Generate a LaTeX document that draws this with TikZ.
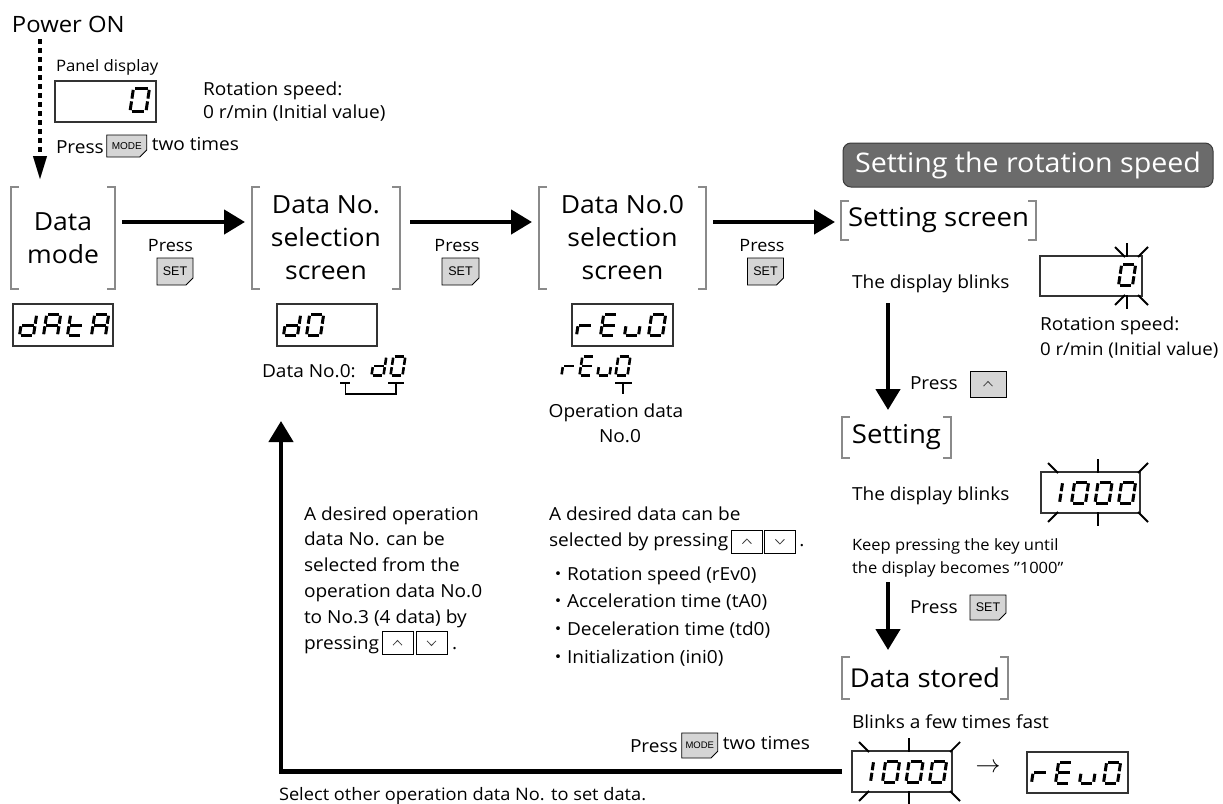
\documentclass[tikz,border=0pt]{standalone}
\usepackage{fontspec}
\setmainfont{Open Sans}[FakeStretch=1.06]
\newfontfamily\cjk{Noto Sans CJK JP}
\newfontfamily\keyfont{Liberation Sans}
\usetikzlibrary{arrows.meta,shapes.misc}
\definecolor{brk}{HTML}{8A8A8A}
\definecolor{keyfill}{HTML}{D5D5D5}
\definecolor{bannerfill}{HTML}{6B6B6B}
\definecolor{bannerline}{HTML}{3A3A3A}
\definecolor{boxline}{HTML}{333333}
% seven segment definitions (unit cell, y up)
\def\SEGa{(0.1,1)--(0.9,1)}
\def\SEGb{(1,0.94)--(1,0.56)}
\def\SEGc{(1,0.44)--(1,0.06)}
\def\SEGd{(0.1,0)--(0.9,0)}
\def\SEGe{(0,0.44)--(0,0.06)}
\def\SEGf{(0,0.94)--(0,0.56)}
\def\SEGg{(0.1,0.5)--(0.9,0.5)}
\expandafter\def\csname chd\endcsname{b,c,d,e,g}
\expandafter\def\csname chA\endcsname{a,b,c,e,f,g}
\expandafter\def\csname cht\endcsname{d,e,f,g}
\expandafter\def\csname ch0\endcsname{a,b,c,d,e,f}
\expandafter\def\csname chr\endcsname{e,g}
\expandafter\def\csname chE\endcsname{a,d,e,f,g}
\expandafter\def\csname chu\endcsname{c,d,e}
\expandafter\def\csname ch1\endcsname{b,c}
\newcommand\segdraw[1]{\edef\segtmp{\noexpand\draw[segline] \csname SEG#1\endcsname;}\segtmp}
% x, ybottom, H, W, linewidth, char
\newcommand\ssch[6]{%
  \edef\sslist{\csname ch#6\endcsname}%
  \pgfmathsetmacro\ssC{-0.15*#3}\pgfmathsetmacro\ssD{-#3}%
  \begin{scope}[shift={(#1,#2)}, cm={#4,0,\ssC,\ssD,(0,0)}, segline/.style={line width=#5pt}]
    \foreach \sseg in \sslist {\segdraw{\sseg}}
  \end{scope}}
% x0, ybottom, H, W, lw, pitch, chars
\newcommand\ssword[7]{%
  \foreach \sschar [count=\nn from 0] in {#7}{%
    \pgfmathsetmacro\ssx{#1+\nn*#6}%
    \ssch{\ssx}{#2}{#3}{#4}{#5}{\sschar}}}
% blink rays: x0, x1, xc, y0, y1
\newcommand\blinkrays[5]{%
  \draw[rayline] (#1+7,#4-9) -- (#1+17,#4+1);
  \draw[rayline] (#3,#4-13) -- (#3,#4+1);
  \draw[rayline] (#2-2,#4+1) -- (#2+8,#4-9);
  \draw[rayline] (#1+7,#5+9) -- (#1+17,#5-1);
  \draw[rayline] (#3,#5-1) -- (#3,#5+13);
  \draw[rayline] (#2-2,#5-1) -- (#2+8,#5+9);}
\newcommand\bracketize[2]{%
  \draw[brkline] ([xshift=#2]#1.north west) -- (#1.north west) -- (#1.south west) -- ([xshift=#2]#1.south west);
  \draw[brkline] ([xshift=-#2]#1.north east) -- (#1.north east) -- (#1.south east) -- ([xshift=-#2]#1.south east);}
\newcommand\upchev[1]{\draw[chev] ([shift={(-4.5pt,-2.2pt)}]#1.center) -- ([shift={(0pt,2.5pt)}]#1.center) -- ([shift={(4.5pt,-2.2pt)}]#1.center);}
\newcommand\downchev[1]{\draw[chev] ([shift={(-4.5pt,2.2pt)}]#1.center) -- ([shift={(0pt,-2.5pt)}]#1.center) -- ([shift={(4.5pt,2.2pt)}]#1.center);}
\begin{document}
\begin{tikzpicture}[x=1pt,y=-1pt,
  brknode/.style={inner sep=0, outer sep=0, align=center, font=\fontsize{25}{33}\selectfont},
  brkline/.style={draw=brk, line width=2.2pt},
  dispbox/.style={draw=boxline, line width=1.2pt, inner sep=0, outer sep=0},
  keybtn/.style={chamfered rectangle, chamfered rectangle corners=south east, chamfered rectangle xsep=3.5pt, chamfered rectangle ysep=3.5pt, draw=black, line width=0.8pt, fill=keyfill, inner sep=0, outer sep=0, font=\keyfont\fontsize{12.5}{12.5}\selectfont},
  arrkey/.style={draw=black, line width=0.8pt, fill=keyfill, inner sep=0, outer sep=0, minimum width=36pt, minimum height=26pt},
  udbox/.style={draw=black, line width=0.8pt, fill=white, inner sep=0, outer sep=0, minimum width=31pt, minimum height=23pt},
  chev/.style={line width=0.8pt, draw=black!75},
  mainarrow/.style={line width=4.5pt, -{Triangle[length=21pt,width=24pt]}},
  dotarrow/.style={line width=4pt, dash pattern=on 5pt off 4pt, -{Triangle[length=24pt,width=13pt]}},
  segline/.style={line width=3pt},
  rayline/.style={line width=1.8pt},
  leader/.style={line width=1.1pt},
  tx/.style={anchor=base west, inner sep=0, outer sep=0, font=\fontsize{18}{22}\selectfont},
  txs/.style={tx, font=\fontsize{15.6}{20}\selectfont},
  txc/.style={anchor=base, inner sep=0, outer sep=0, font=\fontsize{17}{22}\selectfont},
  banner/.style={rounded corners=8pt, fill=bannerfill, draw=bannerline, line width=1pt, text=white, inner sep=0, minimum width=370pt, minimum height=44pt, font=\fontsize{27}{30}\selectfont}
]
\useasboundingbox (0,0) rectangle (1223,803);

% ---- power on
\node[tx, font=\fontsize{22.5}{30}\selectfont] (power) at (12,32) {Power ON};
\node[tx, font=\fontsize{15.8}{20}\selectfont] (panel) at (56,71) {Panel display};
\node[dispbox, minimum width=101pt, minimum height=41pt] (pd) at (105.5,101.5) {};
\ssch{130}{111.5}{23}{16}{3}{0}
\node[tx] (rs1) at (203,95) {Rotation speed:};
\node[tx] (rs2) at (203,118) {0 r/min (Initial value)};
\node[tx] (pr0) at (56,153) {Press};
\node[keybtn, minimum width=40pt, minimum height=22pt, font=\keyfont\fontsize{10}{10}\selectfont, anchor=west] (mk0) at ([shift={(3pt,7pt)}]pr0.base east) {MODE};
\node[tx, anchor=west] (tt0) at ([xshift=5pt]mk0.east) {\vphantom{Pp}two times};

% ---- main row brackets
\node[brknode, minimum width=104pt, minimum height=102pt] (dm) at (63,238) {Data\\mode};
\node[brknode, minimum width=148pt, minimum height=102pt] (dns) at (326,238) {Data No.\\selection\\screen};
\node[brknode, minimum width=167pt, minimum height=102pt] (dn0) at (622.5,238) {Data No.0\\selection\\screen};
\bracketize{dm}{8pt}
\bracketize{dns}{8pt}
\bracketize{dn0}{8pt}

\coordinate (dstart) at (40,39);
\draw[dotarrow, shorten >=7pt] (dstart) -- (dstart |- dm.north);

% ---- right column nodes
\node[banner] (ban) at (1028,165) {Setting the rotation speed};
\node[brknode, font=\fontsize{26}{30}\selectfont, minimum width=195pt, minimum height=39pt] (ss) at (938.5,220.5) {Setting screen};
\node[brknode, font=\fontsize{26}{30}\selectfont, minimum width=109pt, minimum height=41pt] (st) at (896.5,437.5) {Setting};
\node[brknode, font=\fontsize{26}{30}\selectfont, minimum width=166pt, minimum height=42pt] (ds) at (925,678) {Data stored};
\bracketize{ss}{8pt}
\bracketize{st}{8pt}
\bracketize{ds}{8pt}

% ---- main arrows
\coordinate (rowy) at (0,222);
\draw[mainarrow, shorten <=7pt, shorten >=7pt] (dm.east |- rowy) -- (dns.west |- rowy);
\draw[mainarrow, shorten <=10pt, shorten >=7pt] (dns.east |- rowy) -- (dn0.west |- rowy);
\draw[mainarrow, shorten <=7pt, shorten >=6pt] (dn0.east |- rowy) -- (ss.west |- rowy);

\node[txc] (p1) at (170.5,251) {Press};
\node[keybtn, minimum width=36pt, minimum height=27pt] (k1) at (175,271.5) {SET};
\node[txc] (p2) at (457,251) {Press};
\node[keybtn, minimum width=37pt, minimum height=27pt] (k2) at (460.5,271.5) {SET};
\node[txc] (p3) at (762,251) {Press};
\node[keybtn, minimum width=36pt, minimum height=27pt] (k3) at (765.5,271.5) {SET};

% ---- displays in main row
\node[dispbox, minimum width=100pt, minimum height=42pt] (bdata) at (63,325) {};
\ssword{19.5}{335.5}{21}{14}{3}{24}{d,A,t,A}
\node[dispbox, minimum width=100pt, minimum height=42pt] (bd0) at (327,325) {};
\ssword{283.5}{335.5}{21}{14}{3}{23}{d,0}
\node[dispbox, minimum width=101pt, minimum height=42pt] (brev) at (622.5,325) {};
\ssword{576.5}{335.5}{21}{14}{3}{24}{r,E,u,0}

% ---- annotations under displays
\node[tx] (dnA) at (262,377) {Data No.};
\node[tx] (dnB) at (dnA.base east) {0};
\node[tx] (dnC) at (dnB.base east) {:};
\ssword{371.5}{375.5}{19}{12}{2.6}{19}{d,0}
\coordinate (legL) at (dnB.base);
\draw[leader] ([xshift=-5pt]legL |- 0,383) -- ([xshift=5pt]legL |- 0,383);
\draw[leader] (legL |- 0,383) -- (legL |- 0,394) -- (396,394) -- (396,383);
\draw[leader] (388,383) -- (404,383);
\ssword{561.5}{375.5}{19}{12}{2.6}{18}{r,E,u,0}
\draw[leader] (615,383) -- (632,383);
\draw[leader] (623,383) -- (623,394);
\node[txc, font=\fontsize{18}{22}\selectfont] (od1) at (616,417) {Operation data};
\node[txc, font=\fontsize{18}{22}\selectfont] (od2) at (620,442) {No.0};

% ---- setting screen
\node[tx] (bl1) at (852,288) {The display blinks};
\node[dispbox, minimum width=102pt, minimum height=40pt] (bss0) at (1091,276) {};
\ssch{1118.5}{285.5}{21}{14}{3}{0}
\blinkrays{1108}{1140}{1127}{256}{296}
\node[tx] (rs3) at (1040,330) {Rotation speed:};
\node[tx, font=\fontsize{17.6}{22}\selectfont] (rs4) at (1040,355) {0 r/min (Initial value)};
\coordinate (v1s) at (888,303);
\draw[mainarrow, shorten >=7pt] (v1s) -- (v1s |- st.north);
\node[tx] (p4) at (910,389) {Press};
\node[arrkey] (uk) at (988,384) {};
\upchev{uk}

% ---- setting
\node[tx] (bl2) at (852,500) {The display blinks};
\node[dispbox, minimum width=99pt, minimum height=41pt] (bset) at (1090.5,492.5) {};
\ssch{1045.5}{503}{21}{14}{3}{1}
\ssword{1071.5}{503}{21}{14}{3}{23.5}{0,0,0}
\blinkrays{1041}{1140}{1098}{472}{513}
\node[txs] (kp1) at (852,550) {Keep pressing the key until};
\node[txs] (kp2) at (852,573) {the display becomes "1000"};
\coordinate (v2s) at (888,582);
\draw[mainarrow, shorten >=7pt] (v2s) -- (v2s |- ds.north);
\node[tx] (p5) at (910,613) {Press};
\node[keybtn, minimum width=36pt, minimum height=25pt] (k5) at (988,607.5) {SET};

% ---- data stored
\node[tx] (bf) at (852,728) {Blinks a few times fast};
\node[dispbox, minimum width=100pt, minimum height=41pt] (bst) at (902,771.5) {};
\ssch{856.5}{782}{21}{14}{3}{1}
\ssword{882.5}{782}{21}{14}{3}{23.5}{0,0,0}
\blinkrays{852}{952}{909}{751}{792}
\node[inner sep=0, font=\fontsize{24.88}{26}\selectfont] (arw) at (988,768) {$\rightarrow$};
\node[dispbox, minimum width=101pt, minimum height=41pt] (brev2) at (1077.5,772.5) {};
\ssword{1031.5}{783}{21}{14}{3}{24}{r,E,u,0}

% ---- return path
\coordinate (rettip) at (281,421);
\draw[mainarrow, shorten <=10pt] (bst.west) -| (rettip);
\node[tx] (p6) at (630,752) {Press};
\node[keybtn, minimum width=36pt, minimum height=25pt, font=\keyfont\fontsize{9.5}{9.5}\selectfont, anchor=west] (mk1) at ([shift={(4pt,6.5pt)}]p6.base east) {MODE};
\node[tx, anchor=west] (tt1) at ([xshift=5pt]mk1.east) {\vphantom{Pp}two times};
\node[tx, font=\fontsize{17.2}{22}\selectfont] (sel) at (279,800) {Select other operation data No. to set data.};

% ---- left paragraph
\foreach \txt [count=\nn] in {A desired operation, data No. can be, selected from the, operation data No.0, to No.3 (4 data) by}
  {\node[tx] (lp\nn) at (304,{520+(\nn-1)*25.8}) {\txt};}
\node[tx] (lp6) at (304,649) {pressing};
\node[udbox, anchor=west] (lu) at ([shift={(3pt,6pt)}]lp6.base east) {};
\node[udbox, anchor=west] (ld) at ([xshift=3pt]lu.east) {};
\upchev{lu}
\downchev{ld}
\node[tx] (lp7) at ([xshift=5pt]ld.east |- lp6.base) {.};

% ---- right paragraph
\node[tx] (rp1) at (549,520) {A desired data can be};
\node[tx] (rp2) at (549,546) {selected by pressing};
\node[udbox, anchor=west] (ru) at ([shift={(3pt,4.5pt)}]rp2.base east) {};
\node[udbox, anchor=west] (rd) at ([xshift=2pt]ru.east) {};
\upchev{ru}
\downchev{rd}
\node[tx] (rp3) at ([xshift=4pt]rd.east |- rp2.base) {.};
\foreach \txt [count=\nn] in {Rotation speed (rEv0), Acceleration time (tA0), Deceleration time (td0), Initialization (ini0)}
  {\node[tx] (rb\nn) at (549,{580+(\nn-1)*27.8}) {{\cjk ・}\txt};}
\end{tikzpicture}
\end{document}
